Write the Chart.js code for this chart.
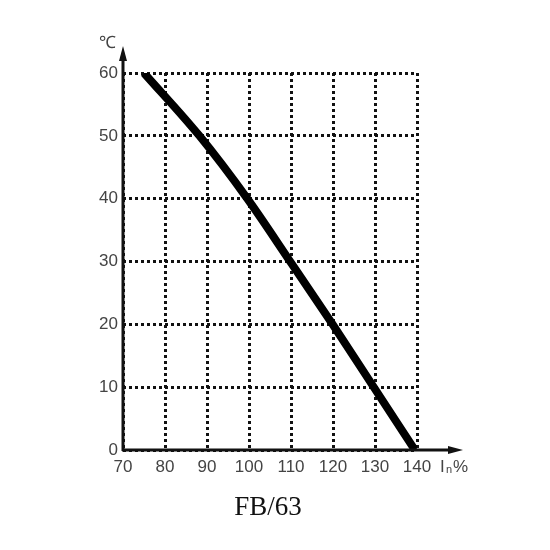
<!DOCTYPE html>
<html>
<head>
<meta charset="utf-8">
<script src="https://cdn.jsdelivr.net/npm/chart.js@4"></script>
<style>
  html,body{margin:0;padding:0;background:#fff;}
  #wrap{width:550px;height:550px;}
</style>
</head>
<body>
<div id="wrap"><canvas id="myChart" width="550" height="550"></canvas></div>
<script>
// values
const currentPct=[75,88.2,99.6,109.8,119.9,129.7,139.5];
const tempC=[60,50,40,30,20,10,0];
const xTicks=[70,80,90,100,110,120,130,140];
const yTicks=[0,10,20,30,40,50,60];
const title="FB/63";

const axisDecor={
  id:"axisDecor",
  afterDraw(chart){
    const c=chart.ctx, a=chart.chartArea;
    c.save();
    c.strokeStyle="#111";c.fillStyle="#111";c.lineWidth=3;
    // y axis with arrow
    c.beginPath();c.moveTo(a.left,a.bottom+1);c.lineTo(a.left,a.top-18);c.stroke();
    c.beginPath();c.moveTo(a.left,a.top-27);c.lineTo(a.left-4,a.top-12);c.lineTo(a.left+4,a.top-12);c.closePath();c.fill();
    // x axis with arrow
    c.beginPath();c.moveTo(a.left-1,a.bottom);c.lineTo(a.right+36,a.bottom);c.stroke();
    c.beginPath();c.moveTo(a.right+46,a.bottom);c.lineTo(a.right+31,a.bottom-4);c.lineTo(a.right+31,a.bottom+4);c.closePath();c.fill();
    // unit labels
    c.fillStyle="#444";
    c.font="17px 'Liberation Sans', Arial";
    c.textAlign="center";c.textBaseline="middle";
    c.fillText("\u2103",a.left-16,a.top-30);
    c.textAlign="left";
    c.font="17px 'Liberation Sans', Arial";
    c.fillText("I",a.right+23,a.bottom+17);
    c.font="11px 'Liberation Sans', Arial";
    c.fillText("n",a.right+29,a.bottom+20);
    c.font="17px 'Liberation Sans', Arial";
    c.fillText("%",a.right+36,a.bottom+17);
    // caption
    c.fillStyle="#111";
    c.font="27px 'Liberation Serif', 'Times New Roman', serif";
    c.textAlign="center";
    c.fillText(title,268,508);
    c.restore();
  }
};

new Chart(document.getElementById("myChart"),{
  type:"line",
  data:{
    datasets:[{
      data:currentPct.map((x,i)=>({x:x,y:tempC[i]})),
      borderColor:"#000",
      borderWidth:8,
      pointRadius:0,
      cubicInterpolationMode:"monotone",
      borderCapStyle:"butt",
      fill:false
    }]
  },
  options:{
    responsive:false,
    animation:false,
    layout:{padding:{left:81,right:133,top:73,bottom:70}},
    plugins:{legend:{display:false},tooltip:{enabled:false}},
    scales:{
      x:{
        type:"linear",min:70,max:140,
        afterFit(s){s.height=30;},
        afterBuildTicks(s){s.ticks=xTicks.map(v=>({value:v}));},
        grid:{color:"#111",lineWidth:3,drawTicks:false},
        border:{display:false,dash:[3,3]},
        ticks:{color:"#444",font:{size:17,family:"'Liberation Sans', Arial"},padding:7,maxRotation:0}
      },
      y:{
        type:"linear",min:0,max:60,
        afterFit(s){s.width=42;},
        afterBuildTicks(s){s.ticks=yTicks.map(v=>({value:v}));},
        grid:{color:"#111",lineWidth:3,drawTicks:false},
        border:{display:false,dash:[3,3]},
        ticks:{color:"#444",font:{size:17,family:"'Liberation Sans', Arial"},padding:5}
      }
    }
  },
  plugins:[axisDecor]
});
</script>
</body>
</html>
